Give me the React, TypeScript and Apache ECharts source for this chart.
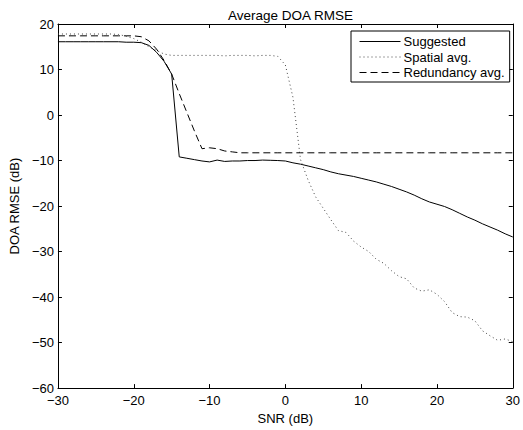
import React, { useEffect, useRef } from "react";
import * as echarts from "echarts";

const snr = [
  -30, -29, -28, -27, -26, -25, -24, -23, -22, -21, -20, -19, -18, -17, -16, -15, -14, -13, -12, -11,
  -10, -9, -8, -7, -6, -5, -4, -3, -2, -1, 0, 1, 2, 3, 4, 5, 6, 7, 8, 9,
  10, 11, 12, 13, 14, 15, 16, 17, 18, 19, 20, 21, 22, 23, 24, 25, 26, 27, 28, 29, 30,
];

const suggested = [
  16.1, 16.1, 16.1, 16.1, 16.1, 16.1, 16.1, 16.1, 16.1, 16.0, 16.0, 15.9, 15.3, 13.8, 11.8, 9.0, -9.2, -9.5, -9.8, -10.1,
  -10.3, -9.9, -10.2, -10.1, -10.1, -10.0, -10.0, -9.9, -9.95, -10.0, -10.1, -10.5, -10.8, -11.2, -11.6, -12.0, -12.5, -12.9, -13.2, -13.5,
  -13.9, -14.3, -14.7, -15.2, -15.7, -16.3, -16.9, -17.6, -18.4, -19.1, -19.6, -20.1, -20.8, -21.6, -22.4, -23.1, -23.9, -24.6, -25.3, -26.1, -26.8,
];

const spatial = [
  17.8, 17.8, 17.8, 17.8, 17.8, 17.8, 17.8, 17.8, 17.7, 17.3, 16.8, 16.0, 15.0, 14.2, 13.4, 13.1, 13.1, 13.1, 13.1, 13.1,
  13.1, 13.1, 13.0, 13.1, 13.1, 13.1, 13.0, 13.1, 13.1, 12.9, 11.0, 3.9, -9.8, -14.3, -18.0, -20.5, -23.0, -25.4, -25.8, -27.7,
  -29.0, -30.0, -31.7, -32.6, -34.2, -35.5, -36.0, -38.0, -38.7, -38.4, -39.4, -41.0, -43.4, -44.3, -44.4, -45.2, -47.4, -48.5, -49.5, -49.2, -49.8,
];

const redundancy = [
  17.4, 17.4, 17.4, 17.4, 17.4, 17.4, 17.4, 17.4, 17.4, 17.4, 17.4, 17.2, 16.3, 14.5, 12.0, 9.0, 4.7, 0.6, -3.5, -7.4,
  -7.2, -7.4, -7.9, -8.1, -8.3, -8.3, -8.3, -8.3, -8.3, -8.3, -8.3, -8.3, -8.3, -8.3, -8.3, -8.3, -8.3, -8.3, -8.3, -8.3,
  -8.3, -8.3, -8.3, -8.3, -8.3, -8.3, -8.3, -8.3, -8.3, -8.3, -8.3, -8.3, -8.3, -8.3, -8.3, -8.3, -8.3, -8.3, -8.3, -8.3, -8.3,
];

const seriesNames = ["Suggested", "Spatial avg.", "Redundancy avg."];

const FONT = "'Liberation Sans', Arial, Helvetica, sans-serif";
const fmt = (v: number) => String(v).replace("-", "\u2212");

export default function App() {
  const ref = useRef<HTMLDivElement>(null);
  useEffect(() => {
    if (!ref.current) return;
    const chart = echarts.init(ref.current, undefined, { renderer: "svg" });
    const pair = (ys: number[]) => snr.map((x, i) => [x, ys[i]]);
    const axisCommon = {
      axisLine: { show: true, onZero: false, lineStyle: { color: "#000", width: 1 } },
      axisTick: { show: true, inside: true, length: 4, lineStyle: { color: "#000", width: 1 } },
      splitLine: { show: false },
    };
    chart.setOption({
      animation: false,
      backgroundColor: "#fff",
      textStyle: { fontFamily: FONT },
      title: {
        text: "Average DOA RMSE",
        left: 285.5,
        top: 3,
        textAlign: "center",
        textStyle: { fontSize: 13.5, fontWeight: "normal", color: "#000", fontFamily: FONT },
      },
      legend: {
        orient: "vertical",
        left: 351,
        top: 31,
        data: seriesNames,
        backgroundColor: "#fff",
        borderColor: "#000",
        borderWidth: 1,
        borderRadius: 0,
        padding: [4, 5, 3, 8],
        itemWidth: 41,
        itemHeight: 14,
        itemGap: 2.5,
        itemStyle: { opacity: 0 },
        lineStyle: { width: 1 },
        textStyle: { fontSize: 13, color: "#000", fontFamily: FONT, padding: [0, 0, 0, -2] },
      },
      grid: { left: 54, right: 6, top: 24, bottom: 41, containLabel: false },
      xAxis: [
        {
          type: "value",
          min: -30,
          max: 30,
          interval: 10,
          position: "bottom",
          name: "SNR (dB)",
          nameLocation: "middle",
          nameGap: 22,
          nameTextStyle: { fontSize: 13, color: "#000", fontFamily: FONT },
          axisLabel: { fontSize: 13, color: "#000", margin: 6, formatter: fmt, fontFamily: FONT },
          ...axisCommon,
        },
        {
          type: "value",
          min: -30,
          max: 30,
          interval: 10,
          position: "top",
          axisLabel: { show: false },
          ...axisCommon,
        },
      ],
      yAxis: [
        {
          type: "value",
          min: -60,
          max: 20,
          interval: 10,
          position: "left",
          name: "DOA RMSE (dB)",
          nameLocation: "middle",
          nameGap: 35,
          nameTextStyle: { fontSize: 13, color: "#000", fontFamily: FONT },
          axisLabel: { fontSize: 13, color: "#000", margin: 4, formatter: fmt, fontFamily: FONT },
          ...axisCommon,
        },
        {
          type: "value",
          min: -60,
          max: 20,
          interval: 10,
          position: "right",
          axisLabel: { show: false },
          ...axisCommon,
        },
      ],
      series: [
        {
          name: seriesNames[0],
          type: "line",
          data: pair(suggested),
          symbol: "none",
          lineStyle: { color: "#000", width: 1, type: "solid" },
          itemStyle: { color: "#000" },
        },
        {
          name: seriesNames[1],
          type: "line",
          data: pair(spatial),
          symbol: "none",
          lineStyle: { color: "#444", width: 1, type: [1, 3] },
          itemStyle: { color: "#444" },
        },
        {
          name: seriesNames[2],
          type: "line",
          data: pair(redundancy),
          symbol: "none",
          lineStyle: { color: "#000", width: 1, type: [7, 4] },
          itemStyle: { color: "#000" },
        },
      ],
    });
    return () => chart.dispose();
  }, []);
  return <div ref={ref} style={{ width: 523, height: 430, position: "absolute", left: 0, top: 0 }} />;
}
